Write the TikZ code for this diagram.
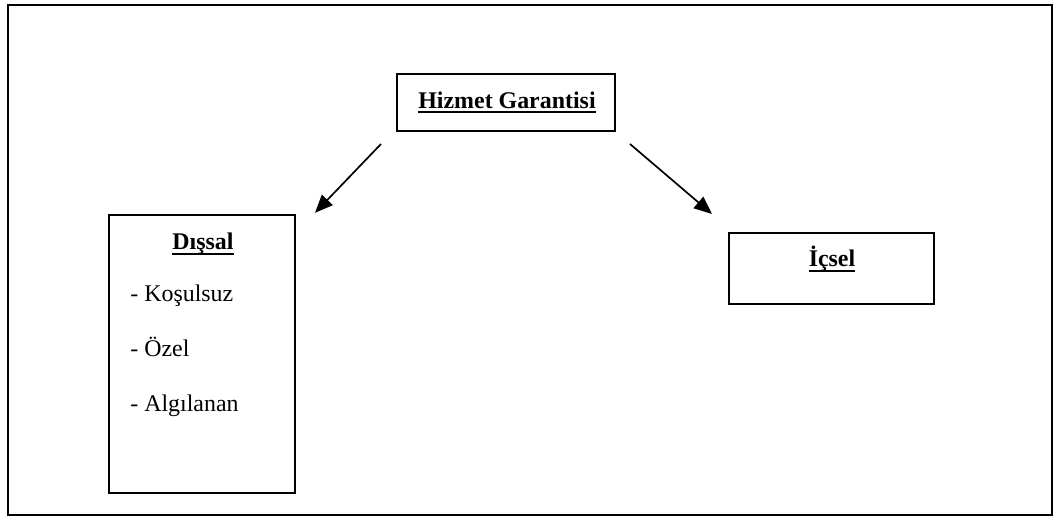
\documentclass[tikz,border=0pt]{standalone}
\usepackage{fontspec}
\setmainfont{Liberation Serif}
\usetikzlibrary{positioning, arrows.meta, calc}
\pgfmathsetmacro{\unitpx}{0.502}
% thicker underline, drawn just under the baseline
\newcommand{\thickul}[1]{\setbox0\hbox{#1}\dp0=0pt\vtop{\copy0\kern1.3pt\hrule height 1.3pt}}

\begin{document}
\begin{tikzpicture}[x=\unitpx pt, y=-\unitpx pt, font=\fontsize{12}{14}\selectfont,
	box/.style={draw, line width=1pt, inner sep=0pt},
	title/.style={font=\fontsize{12}{14}\selectfont\bfseries, anchor=base, inner sep=0pt},
	item/.style={anchor=base west, inner sep=0pt},
	link/.style={line width=0.85pt, -{Triangle[length=9pt, width=7.5pt]}}]
	\useasboundingbox (0,0) rectangle (1054,517);
	\draw[line width=1pt] (8,5.5) rectangle (1052,515);
	
	% top box
	\node[box, minimum width=218pt*\unitpx, minimum height=57pt*\unitpx] (hizmet) at (506,102.5) {};
	\node[title] (hizmetlbl) at (507,108.3) {\thickul{Hizmet Garantisi}};
	
	% left box
	\node[box, minimum width=186pt*\unitpx, minimum height=278pt*\unitpx] (dissal) at (202,353.8) {};
	\node[title] (dissallbl) at (203,250) {\thickul{Dışsal}};
	\node[item] (kosulsuz) at (130,301.7) {- Koşulsuz};
	\node[item] (ozel) at (130,356.7) {- Özel};
	\node[item] (algilanan) at (130,411.7) {- Algılanan};
	
	% right box
	\node[box, minimum width=205pt*\unitpx, minimum height=71pt*\unitpx] (icsel) at (831.5,268.5) {};
	\node[title] (icsellbl) at (832,267) {\thickul{İçsel}};
	
	\draw[link] ([shift={(-15,12)}]hizmet.south west) -- ([shift={(19,-1)}]dissal.north east);
	\draw[link] ([shift={(14,12)}]hizmet.south east) -- ([shift={(-16,-18)}]icsel.north west);
\end{tikzpicture}
\end{document}
